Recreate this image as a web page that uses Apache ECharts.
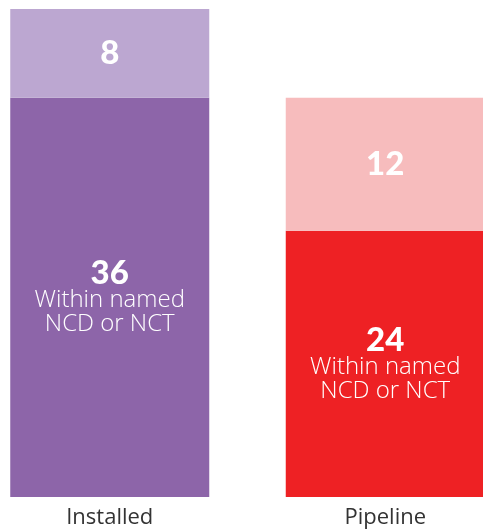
<!DOCTYPE html>
<html>
<head>
<meta charset="utf-8">
<script src="https://cdn.jsdelivr.net/npm/echarts@6/dist/echarts.min.js"></script>
<style>
  html, body { margin: 0; padding: 0; background: #fff; }
  #main { width: 483px; height: 531px; }
</style>
</head>
<body>
<div id="main"></div>
<script>
var categories = ['Installed', 'Pipeline'];
var namedValues = [36, 24];   // within named NCD or NCT
var otherValues = [8, 12];
var namedColors = ['#8d65a9', '#ee2124'];
var otherColors = ['#bca7d1', '#f7bcbd'];

var myChart = echarts.init(document.getElementById('main'));

function namedData() {
    var arr = [];
    for (var i = 0; i < namedValues.length; i++) {
        arr.push({ value: namedValues[i], itemStyle: { color: namedColors[i] } });
    }
    return arr;
}
function otherData() {
    var arr = [];
    for (var i = 0; i < otherValues.length; i++) {
        arr.push({ value: otherValues[i], itemStyle: { color: otherColors[i] } });
    }
    return arr;
}

var option = {
    animation: false,
    grid: { left: -28, width: 551, top: 9, bottom: 34, containLabel: false, outerBoundsMode: 'none' },
    xAxis: {
        type: 'category',
        data: categories,
        axisLine: { show: false },
        axisTick: { show: false },
        axisLabel: {
            margin: 10,
            fontFamily: 'Open Sans',
            fontWeight: 400,
            fontSize: 22,
            color: '#333'
        }
    },
    yAxis: {
        type: 'value',
        min: 0,
        max: 44,
        show: false
    },
    series: [
        {
            name: 'named',
            type: 'bar',
            stack: 'total',
            barWidth: 199,
            data: namedData(),
            label: {
                show: true,
                position: 'inside',
                formatter: function (p) {
                    return '{n|' + p.value + '}\n{t|Within named}\n{t|NCD or NCT}';
                },
                rich: {
                    n: { fontFamily: 'Lato', fontWeight: 900, fontSize: 33, color: '#fff', lineHeight: 30 },
                    t: { fontFamily: 'Open Sans', fontWeight: 300, fontSize: 24, color: '#fff', lineHeight: 24 }
                }
            }
        },
        {
            name: 'other',
            type: 'bar',
            stack: 'total',
            barWidth: 199,
            data: otherData(),
            label: {
                show: true,
                position: 'inside',
                fontFamily: 'Lato',
                fontWeight: 900,
                fontSize: 33,
                color: '#fff'
            }
        }
    ]
};

myChart.setOption(option);
</script>
</body>
</html>
